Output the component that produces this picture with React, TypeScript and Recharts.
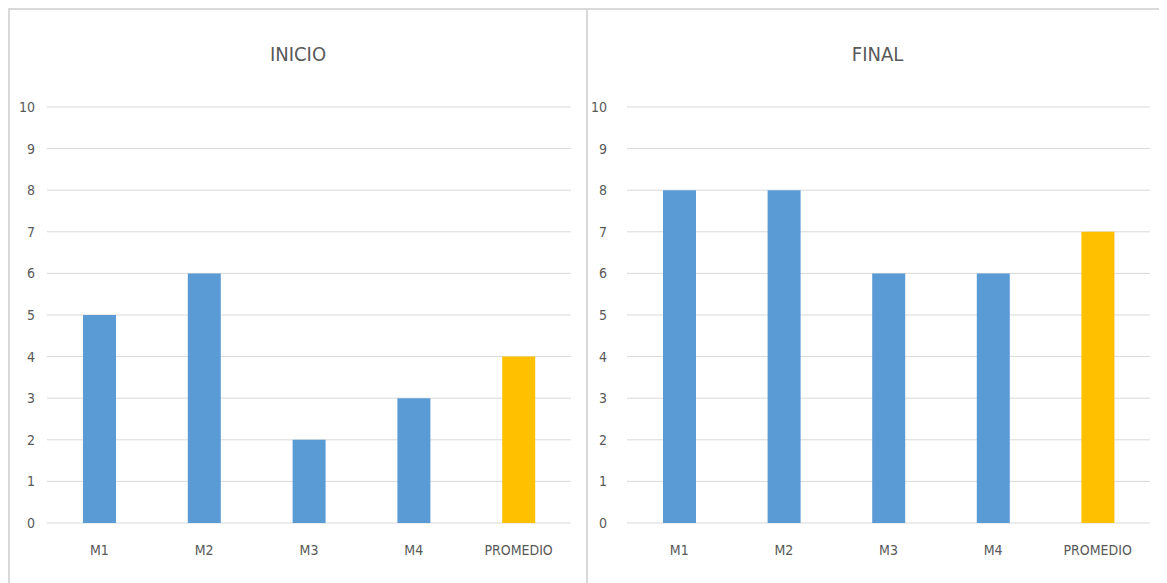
import React from 'react';
import { BarChart, Bar, XAxis, YAxis, CartesianGrid, Cell } from 'recharts';

const categories = ['M1', 'M2', 'M3', 'M4', 'PROMEDIO'];
const inicioValues = [5, 6, 2, 3, 4];
const finalValues = [8, 8, 6, 6, 7];
const yTicks = [0, 1, 2, 3, 4, 5, 6, 7, 8, 9, 10];
const titles = ['INICIO', 'FINAL'];

const BLUE = '#5B9BD5';
const GOLD = '#FFC000';
const FONT = "'Liberation Sans Narrow', 'DejaVu Sans Condensed', sans-serif";
const TEXT = '#595959';
const GRID = '#d9d9d9';

const buildData = (values: number[]) =>
  categories.map((c, i) => ({ name: c, value: values[i] }));

type PanelProps = {
  title: string;
  values: number[];
  left: number;
  width: number;
  margin: { top: number; right: number; left: number; bottom: number };
  yWidth: number;
  yTickMargin: number;
  borderRight: boolean;
};

const Panel = ({ title, values, left, width, margin, yWidth, yTickMargin, borderRight }: PanelProps) => {
  const data = buildData(values);
  return (
    <div
      style={{
        position: 'absolute',
        left,
        top: 0,
        width,
        height: 575,
        boxSizing: 'border-box',
        borderTop: `2px solid ${GRID}`,
        borderLeft: `2px solid ${GRID}`,
        borderRight: borderRight ? `2px solid ${GRID}` : 'none',
      }}
    >
      <div
        style={{
          position: 'absolute',
          left: 0,
          right: 0,
          top: 32,
          textAlign: 'center',
          fontFamily: FONT,
          fontSize: 20,
          color: TEXT,
        }}
      >
        {title}
      </div>
      <div style={{ position: 'absolute', left: -2, top: -2 }}>
        <BarChart width={width} height={575} data={data} margin={margin}>
          <CartesianGrid vertical={false} stroke={GRID} strokeWidth={1} />
          <XAxis
            dataKey="name"
            axisLine={false}
            tickLine={false}
            tickMargin={16}
            interval={0}
            tick={{ fill: TEXT, fontSize: 14, fontFamily: FONT }}
          />
          <YAxis
            domain={[0, 10]}
            ticks={yTicks}
            interval={0}
            width={yWidth}
            axisLine={false}
            tickLine={false}
            tickMargin={yTickMargin}
            tick={{ fill: TEXT, fontSize: 14, fontFamily: FONT }}
          />
          <Bar dataKey="value" barSize={33} isAnimationActive={false}>
            {data.map((d, i) => (
              <Cell key={d.name} fill={i === categories.length - 1 ? GOLD : BLUE} />
            ))}
          </Bar>
        </BarChart>
      </div>
    </div>
  );
};

export default function App() {
  return (
    <div style={{ position: 'relative', width: 1159, height: 575, background: '#fff' }}>
      <Panel
        title={titles[0]}
        values={inicioValues}
        left={0}
        width={580}
        margin={{ top: 99, right: 17, left: 0, bottom: 30 }}
        yWidth={39}
        yTickMargin={6}
        borderRight={true}
      />
      <Panel
        title={titles[1]}
        values={finalValues}
        left={578}
        width={581}
        margin={{ top: 99, right: 17, left: 0, bottom: 30 }}
        yWidth={41}
        yTickMargin={14}
        borderRight={false}
      />
    </div>
  );
}
